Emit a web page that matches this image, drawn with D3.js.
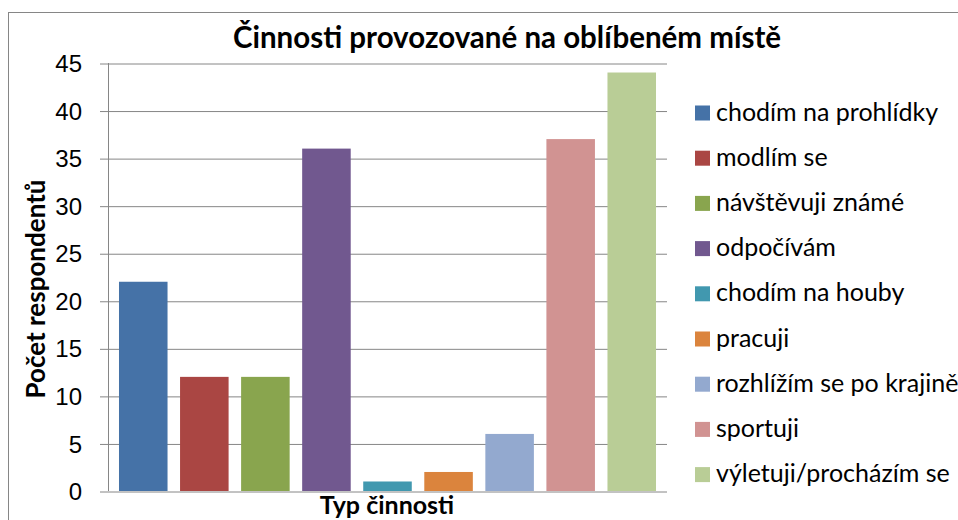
<!DOCTYPE html>
<html>
<head>
<meta charset="utf-8">
<script src="https://cdn.jsdelivr.net/npm/d3@7"></script>
<style>
  body { margin: 0; background: #fff; }
  svg { display: block; font-family: Lato, "Open Sans", sans-serif; }
  .grid line { stroke: #868686; stroke-width: 1; }
  .grid path { display: none; }
  .ytick text { font-size: 24px; fill: #000; }
  .graph-axis-label { font-weight: bold; font-size: 25px; fill: #000; }
</style>
</head>
<body>
<div id="chart"></div>
<script>
// data
var categories = ["chodím na prohlídky", "modlím se", "návštěvuji známé", "odpočívám",
                  "chodím na houby", "pracuji", "rozhlížím se po krajině", "sportuji",
                  "výletuji/procházím se"];
var values = [22, 12, 12, 36, 1, 2, 6, 37, 44];
var colors = ["#4572A7", "#AA4643", "#89A54E", "#71588F", "#4198AF",
              "#DB843D", "#93A9CF", "#D19392", "#B9CD96"];
var yTicks = [0, 5, 10, 15, 20, 25, 30, 35, 40, 45];
var title = "Činnosti provozované na oblíbeném místě";
var yTitle = "Počet respondentů";
var xTitle = "Typ činnosti";

var W = 958, H = 520;
var margin = {top: 63, right: 291, bottom: 29, left: 108},
    width = W - margin.left - margin.right,
    height = H - margin.top - margin.bottom;

var svg = d3.select("#chart")
  .append("svg")
    .attr("width", W)
    .attr("height", H);

// outer chart frame (runs off the right and bottom edges)
svg.append("rect")
  .attr("x", 8.5).attr("y", 12.5)
  .attr("width", W + 20).attr("height", H + 20)
  .attr("fill", "none")
  .attr("stroke", "#868686");

var g = svg.append("g")
  .attr("transform", "translate(" + margin.left + "," + margin.top + ")");

var x = d3.scaleBand()
  .domain(categories)
  .range([0, width])
  .paddingInner(0.205)
  .paddingOuter(0.18);

var y = d3.scaleLinear()
  .domain([0, 45])
  .range([height, 0]);

// gridlines + tick labels
var yAxis = g.append("g")
  .attr("class", "grid ytick")
  .call(d3.axisLeft(y).tickValues(yTicks).tickSize(-width).tickPadding(0));
yAxis.selectAll(".tick line").attr("x1", -8).attr("x2", width)
  .attr("transform", "translate(0,0.5)");
yAxis.selectAll(".tick text").attr("x", -26).attr("dy", "0.36em");

// vertical axis line
g.append("line")
  .attr("x1", 0.5).attr("x2", 0.5)
  .attr("y1", 0).attr("y2", height)
  .attr("stroke", "#868686");

// bars
g.selectAll("mybar")
  .data(values)
  .enter()
  .append("rect")
    .attr("x", function(d, i) { return x(categories[i]); })
    .attr("y", function(d) { return y(d); })
    .attr("width", x.bandwidth())
    .attr("height", function(d) { return height - y(d); })
    .attr("fill", function(d, i) { return colors[i]; });

// title
svg.append("text")
  .attr("x", 507)
  .attr("y", 48)
  .style("text-anchor", "middle")
  .style("font-weight", "bold")
  .style("font-size", "29.5px")
  .text(title);

// y axis label
svg.append("text")
  .attr("transform", "translate(45,289) rotate(-90)")
  .style("text-anchor", "middle")
  .attr("class", "graph-axis-label")
  .style("font-size", "26px")
  .text(yTitle);

// x axis label
svg.append("text")
  .attr("x", 387)
  .attr("y", 514)
  .style("text-anchor", "middle")
  .attr("class", "graph-axis-label")
  .text(xTitle);

// legend
var legend = svg.append("g")
  .attr("transform", "translate(695,113)");

var item = legend.selectAll("g.item")
  .data(categories)
  .enter()
  .append("g")
    .attr("class", "item")
    .attr("transform", function(d, i) { return "translate(0," + (i * 45.2) + ")"; });

item.append("rect")
  .attr("x", 0).attr("y", -7.5)
  .attr("width", 15).attr("height", 15)
  .attr("fill", function(d, i) { return colors[i]; });

item.append("text")
  .attr("x", 21)
  .attr("y", 7.5)
  .style("font-size", "25px")
  .text(function(d) { return d; });
</script>
</body>
</html>
